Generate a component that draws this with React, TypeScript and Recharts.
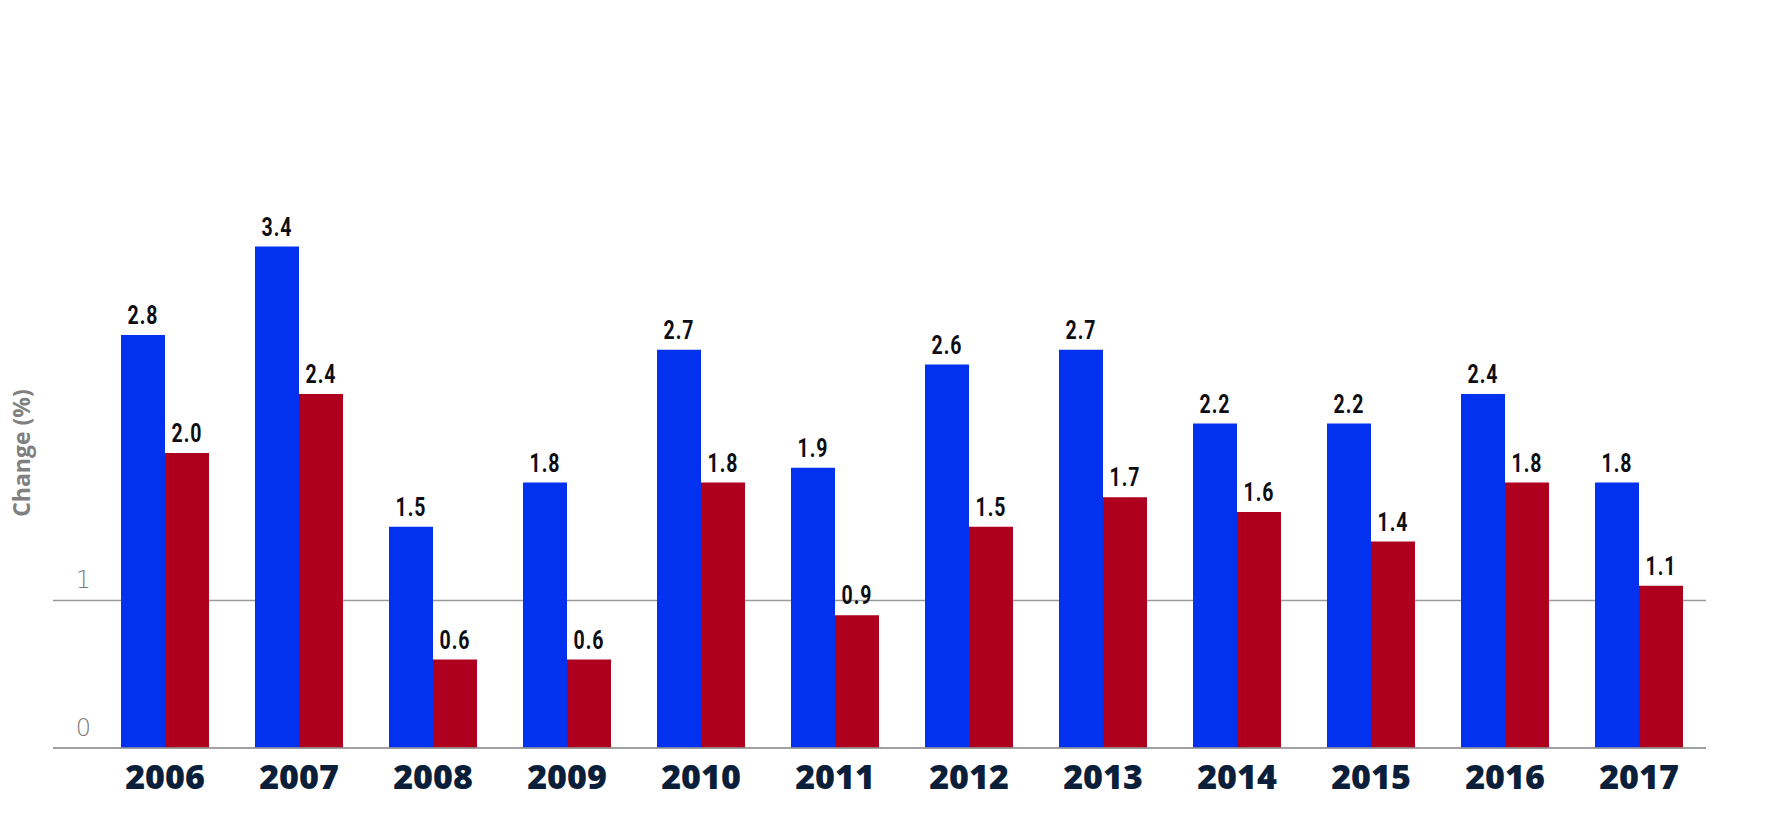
import React from 'react';
import {
  BarChart,
  Bar,
  XAxis,
  YAxis,
  CartesianGrid,
  LabelList,
  Label,
} from 'recharts';

const YEARS = ['2006', '2007', '2008', '2009', '2010', '2011', '2012', '2013', '2014', '2015', '2016', '2017'];
const BLUE_VALUES = [2.8, 3.4, 1.5, 1.8, 2.7, 1.9, 2.6, 2.7, 2.2, 2.2, 2.4, 1.8];
const RED_VALUES = [2.0, 2.4, 0.6, 0.6, 1.8, 0.9, 1.5, 1.7, 1.6, 1.4, 1.8, 1.1];
const Y_TICKS = [0, 1];

const data = YEARS.map((year, i) => ({
  year,
  blue: BLUE_VALUES[i],
  red: RED_VALUES[i],
}));

const BLUE = '#0331f0';
const RED = '#ae001e';
const GRID = '#9a9a9a';

const YTick = (props: any) => {
  const { y, payload } = props;
  return (
    <text
      x={91}
      y={y - 12.5}
      textAnchor="end"
      fill="#7a7a7a"
      fontSize={24}
      fontWeight={200}
      fontFamily="DejaVu Sans"
    >
      {payload.value}
    </text>
  );
};

const YTitle = (props: any) => {
  const { viewBox } = props;
  const cx = viewBox.x + 21;
  const cy = viewBox.y + viewBox.height / 2;
  return (
    <text
      x={cx}
      y={cy}
      transform={`rotate(-90 ${cx} ${cy})`}
      textAnchor="middle"
      dominantBaseline="central"
      fill="#808080"
      fontSize={23}
      fontWeight={700}
      fontFamily="Open Sans"
    >
      Change (%)
    </text>
  );
};

// condensed bold value label above each bar
const ValueLabel = (props: any) => {
  const { x, y, width, value } = props;
  const cx = x + width / 2;
  const by = y - 11;
  return (
    <text
      transform={`translate(${cx} ${by}) scale(0.78 1)`}
      textAnchor="middle"
      fill="#0d0d12"
      fontSize={25}
      fontWeight={700}
      fontFamily="Roboto"
      letterSpacing={1.2}
    >
      {Number(value).toFixed(1)}
    </text>
  );
};

export default function App() {
  return (
    <div style={{ position: 'absolute', left: 0, top: 0, background: '#fff' }}>
      <BarChart
        width={1774}
        height={828}
        data={data}
        margin={{ top: 158, right: 68, left: 0, bottom: 0 }}
        barGap={0}
      >
        <CartesianGrid
          vertical={false}
          horizontalValues={Y_TICKS}
          stroke={GRID}
          strokeWidth={1.5}
        />
        <XAxis
          dataKey="year"
          height={80}
          padding={{ left: 45, right: 0 }}
          axisLine={{ stroke: GRID, strokeWidth: 1.5 }}
          tickLine={false}
          tickSize={0}
          tickMargin={17}
          interval={0}
          tick={{ fill: '#0b1e3a', fontSize: 34, fontWeight: 800, fontFamily: 'Open Sans' }}
        />
        <YAxis
          width={53}
          domain={[0, 4]}
          ticks={Y_TICKS}
          axisLine={false}
          tickLine={false}
          tick={<YTick />}
        >
          <Label content={<YTitle />} />
        </YAxis>
        <Bar dataKey="blue" fill={BLUE} barSize={44} isAnimationActive={false}>
          <LabelList dataKey="blue" content={<ValueLabel />} />
        </Bar>
        <Bar dataKey="red" fill={RED} barSize={44} isAnimationActive={false}>
          <LabelList dataKey="red" content={<ValueLabel />} />
        </Bar>
      </BarChart>
    </div>
  );
}
